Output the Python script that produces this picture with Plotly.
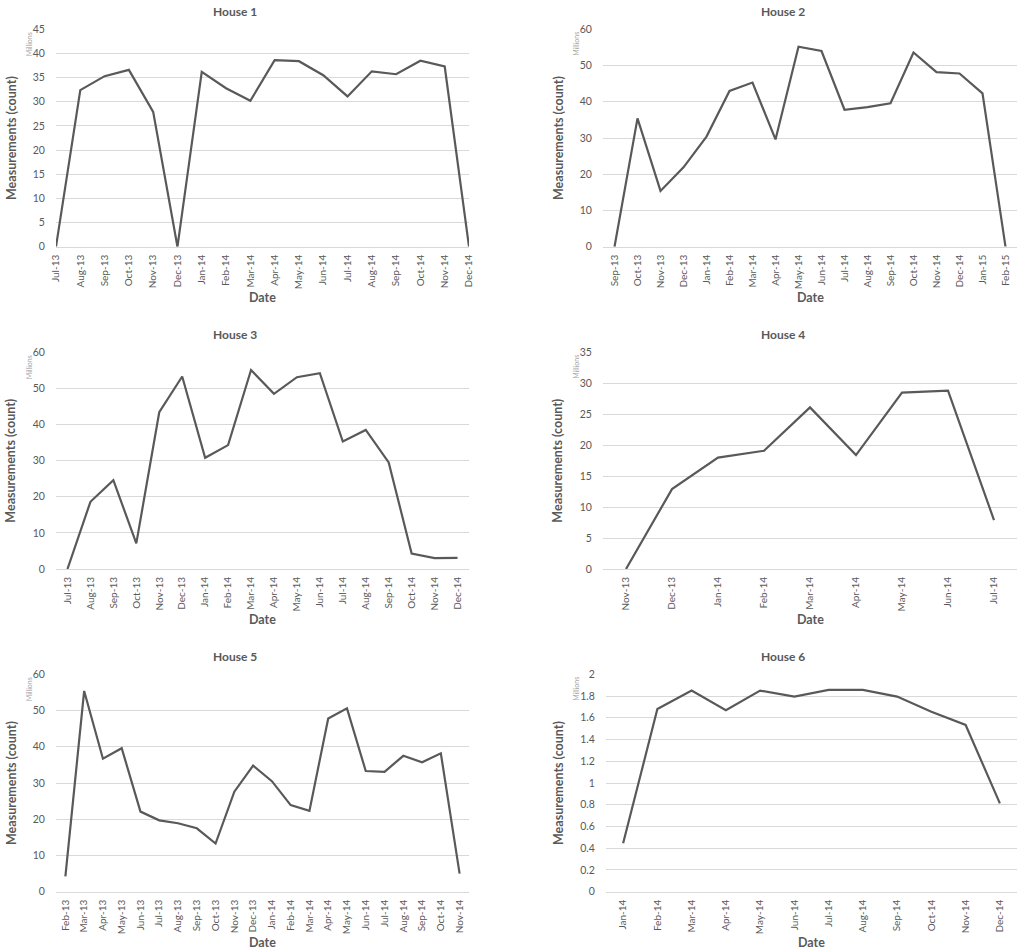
import plotly.graph_objects as go
from plotly.subplots import make_subplots

# monthly measurement counts, in millions
h1_months = ["Jul-13", "Aug-13", "Sep-13", "Oct-13", "Nov-13", "Dec-13", "Jan-14", "Feb-14", "Mar-14",
             "Apr-14", "May-14", "Jun-14", "Jul-14", "Aug-14", "Sep-14", "Oct-14", "Nov-14", "Dec-14"]
h1_values = [0, 32.4, 35.3, 36.6, 27.9, 0, 36.2, 32.8, 30.2, 38.6, 38.4, 35.5, 31.1, 36.3, 35.7, 38.5, 37.3, 0]

h2_months = ["Sep-13", "Oct-13", "Nov-13", "Dec-13", "Jan-14", "Feb-14", "Mar-14", "Apr-14", "May-14",
             "Jun-14", "Jul-14", "Aug-14", "Sep-14", "Oct-14", "Nov-14", "Dec-14", "Jan-15", "Feb-15"]
h2_values = [0, 35.4, 15.4, 21.9, 30.4, 43.0, 45.3, 29.6, 55.2, 54.0, 37.8, 38.5, 39.6, 53.6, 48.2, 47.8, 42.3, 0]

h3_months = ["Jul-13", "Aug-13", "Sep-13", "Oct-13", "Nov-13", "Dec-13", "Jan-14", "Feb-14", "Mar-14",
             "Apr-14", "May-14", "Jun-14", "Jul-14", "Aug-14", "Sep-14", "Oct-14", "Nov-14", "Dec-14"]
h3_values = [0, 18.6, 24.6, 7.1, 43.4, 53.3, 30.8, 34.3, 55.1, 48.5, 53.1, 54.2, 35.3, 38.5, 29.5, 4.3, 3.0, 3.1]

h4_months = ["Nov-13", "Dec-13", "Jan-14", "Feb-14", "Mar-14", "Apr-14", "May-14", "Jun-14", "Jul-14"]
h4_values = [0, 12.9, 18.0, 19.1, 26.1, 18.4, 28.5, 28.8, 7.9]

h5_months = ["Feb-13", "Mar-13", "Apr-13", "May-13", "Jun-13", "Jul-13", "Aug-13", "Sep-13", "Oct-13",
             "Nov-13", "Dec-13", "Jan-14", "Feb-14", "Mar-14", "Apr-14", "May-14", "Jun-14", "Jul-14",
             "Aug-14", "Sep-14", "Oct-14", "Nov-14"]
h5_values = [4.2, 55.4, 36.7, 39.6, 22.1, 19.7, 18.9, 17.5, 13.3, 27.6, 34.8, 30.5, 23.9, 22.3,
             47.8, 50.6, 33.3, 33.1, 37.5, 35.7, 38.2, 5.0]

h6_months = ["Jan-14", "Feb-14", "Mar-14", "Apr-14", "May-14", "Jun-14", "Jul-14", "Aug-14",
             "Sep-14", "Oct-14", "Nov-14", "Dec-14"]
h6_values = [0.445, 1.68, 1.85, 1.67, 1.85, 1.795, 1.856, 1.856, 1.795, 1.656, 1.534, 0.813]

houses = [
    ("House 1", h1_months, h1_values, 45, 5),
    ("House 2", h2_months, h2_values, 60, 10),
    ("House 3", h3_months, h3_values, 60, 10),
    ("House 4", h4_months, h4_values, 35, 5),
    ("House 5", h5_months, h5_values, 60, 10),
    ("House 6", h6_months, h6_values, 2, 0.2),
]

W, H = 1024, 950
FONT = "Lato"
TXT = "#595959"
GRID = "#d9d9d9"


def px(x):
    return x / W


def py(y):
    return 1 - y / H


# plot boxes in window pixels: (left, right), (top, bottom)
col_x = [(56, 469), (603, 1017)]
row_y = [(29.3, 246.7), (352.3, 569), (674.3, 891.7)]

fig = make_subplots(rows=3, cols=2)

annotations = []
for i, (name, months, values, ymax, dtick) in enumerate(houses):
    r, c = i // 2, i % 2
    x0, x1 = col_x[c]
    if i == 5:
        x0 = 606
    y0, y1 = row_y[r]
    n = "" if i == 0 else i + 1
    fig.add_trace(go.Scatter(x=months, y=values, mode="lines",
                             line=dict(color=TXT, width=2.2), showlegend=False),
                  row=r + 1, col=c + 1)
    # House 1 plots on tick marks, the others between them
    xr = [0, len(months) - 1] if i == 0 else [-0.5, len(months) - 0.5]
    fig.update_layout(**{
        f"xaxis{n}": dict(domain=[px(x0), px(x1)], range=xr, type="category", automargin=False,
                          showgrid=False, showline=True, linecolor=GRID, linewidth=1,
                          tickangle=-90, ticks="outside", ticklen=3, tickcolor="rgba(0,0,0,0)",
                          tickfont=dict(family=FONT, size=10, color=TXT)),
        f"yaxis{n}": dict(domain=[py(y1), py(y0)], range=[0, ymax], dtick=dtick, automargin=False,
                          showgrid=True, gridcolor=GRID, gridwidth=1, zeroline=False,
                          showline=False, ticks="outside", ticklen=8, tickcolor="rgba(0,0,0,0)",
                          tickfont=dict(family=FONT, size=10.5, color=TXT)),
    })
    cx = (x0 + x1) / 2
    pane_left = 0 if c == 0 else 510
    # title
    annotations.append(dict(text=f"<b>{name}</b>", x=px(pane_left + (235 if c == 0 else 272.5)),
                            y=py(y0 - 18), xref="paper", yref="paper", showarrow=False,
                            font=dict(family=FONT, size=12, color=TXT), xanchor="center", yanchor="middle"))
    # y title
    annotations.append(dict(text="<b>Measurements (count)</b>", x=px(pane_left + (11 if c == 0 else 48)),
                            y=py((y0 + y1) / 2), xref="paper", yref="paper", showarrow=False,
                            textangle=-90, font=dict(family=FONT, size=12.5, color=TXT),
                            xanchor="center", yanchor="middle"))
    # units label
    annotations.append(dict(text="Millions", x=px(pane_left + (29 if c == 0 else 66.5)),
                            y=py(y0 + 15), xref="paper", yref="paper", showarrow=False,
                            textangle=-90, font=dict(family=FONT, size=7, color="#a6a6a6"),
                            xanchor="center", yanchor="middle"))
    # x title
    annotations.append(dict(text="<b>Date</b>", x=px(cx), y=py(y1 + 50.5),
                            xref="paper", yref="paper", showarrow=False,
                            font=dict(family=FONT, size=12.5, color=TXT),
                            xanchor="center", yanchor="middle"))

fig.update_layout(width=W, height=H, margin=dict(l=0, r=0, t=0, b=0),
                  paper_bgcolor="white", plot_bgcolor="white",
                  annotations=annotations, font=dict(family=FONT, color=TXT))

# drop the default page margin so the figure fills the window exactly
fig.write_html("out.html", config={"displayModeBar": False},
               post_script="document.body.style.margin = '0';")
